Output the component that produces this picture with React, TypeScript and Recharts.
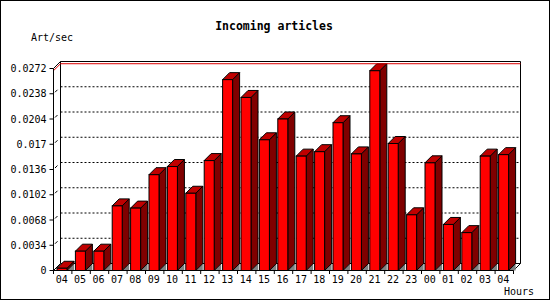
import React from 'react';
import { BarChart, Bar, XAxis, YAxis, CartesianGrid, ReferenceLine } from 'recharts';

// ---- data ----
const hours = ['04', '05', '06', '07', '08', '09', '10', '11', '12', '13', '14', '15', '16', '17', '18', '19', '20', '21', '22', '23', '00', '01', '02', '03', '04'];
const rates = [0.0003, 0.0026, 0.0026, 0.0087, 0.0084, 0.0129, 0.014, 0.0104, 0.0148, 0.0257, 0.0233, 0.0176, 0.0204, 0.0154, 0.016, 0.0199, 0.0157, 0.0269, 0.0171, 0.0075, 0.0145, 0.0062, 0.0051, 0.0154, 0.0156];
const yTicks = [0, 0.0034, 0.0068, 0.0102, 0.0136, 0.017, 0.0204, 0.0238, 0.0272];
const yTickLabels = ['0', '0.0034', '0.0068', '0.0102', '0.0136', '0.017', '0.0204', '0.0238', '0.0272'];
const title = 'Incoming articles';
const yLabel = 'Art/sec';
const xLabel = 'Hours';

const data = hours.map((h, i) => ({ hour: h, rate: rates[i] }));
const maxRate = Math.max(...rates);

// ---- layout ----
const W = 550;
const H = 300;
const D = 7; // 3D depth
const MARGIN = { top: 68.5, right: 36.5, bottom: 0, left: 0 };
const Y_AXIS_W = 53.5;
const X_AXIS_H = 29.5;
const BW = (W - MARGIN.right - Y_AXIS_W - MARGIN.left) / hours.length;
const FONT = '"DejaVu Sans Mono", monospace';

const Bar3D = (props: any) => {
  const { x, y, width, height } = props;
  if (x == null || width == null) return null;
  const bx = x - 0.5;
  const base = y + height;
  const r = bx + width;
  return (
    <g>
      <polygon points={`${r},${base} ${r + D},${base - D} ${r + D},${base}`} fill="#808080" />
      <polygon
        points={`${r},${y} ${r + D},${y - D} ${r + D},${base - D} ${r},${base}`}
        fill="#800000"
        stroke="#000"
        strokeWidth={1}
      />
      <polygon
        points={`${bx},${y} ${bx + D},${y - D} ${r + D},${y - D} ${r},${y}`}
        fill="#c00000"
        stroke="#000"
        strokeWidth={1}
      />
      <rect x={bx} y={y} width={width} height={height} fill="#ff0000" stroke="#000" strokeWidth={1} />
    </g>
  );
};

const GridLine = (p: any) => {
  const { x1, x2, y1, index } = p;
  const top = typeof p.y === 'number' ? p.y : NaN;
  const bottom = typeof p.y === 'number' && typeof p.height === 'number' ? p.y + p.height : NaN;
  const bx1 = x1 + D;
  const bx2 = x2 + D;
  const by = y1 - D;
  if (Math.abs(y1 - top) < 0.6) {
    return (
      <g key={`gl-${index}`}>
        <line x1={bx1} y1={by} x2={bx2} y2={by} stroke="#000" />
        <line x1={x1} y1={y1} x2={bx1} y2={by} stroke="#000" />
        <line x1={bx1} y1={by} x2={bx1} y2={bottom - D} stroke="#000" />
        <line x1={bx2} y1={by} x2={bx2} y2={bottom - D} stroke="#000" />
      </g>
    );
  }
  if (Math.abs(y1 - bottom) < 0.6) {
    return (
      <g key={`gl-${index}`}>
        <line x1={bx1} y1={by} x2={bx2} y2={by} stroke="#000" />
        <line x1={x1} y1={y1} x2={bx1} y2={by} stroke="#000" />
        <line x1={x2} y1={y1} x2={bx2} y2={by} stroke="#000" />
      </g>
    );
  }
  return (
    <g key={`gl-${index}`}>
      <line x1={bx1} y1={by} x2={bx2} y2={by} stroke="#000" strokeDasharray="2 2" />
      <line x1={x1 + 1.5} y1={y1 - 1.5} x2={x1 + 4} y2={y1 - 4} stroke="#000" />
    </g>
  );
};

const MaxLine = (p: any) => {
  const { x1, y1, x2, y2 } = p;
  if (x1 == null) return null;
  return (
    <g>
      <line x1={x1 + D} y1={y1 - D} x2={x2 + D} y2={y2 - D} stroke="#dd0000" />
      <line x1={x1} y1={y1} x2={x1 + D} y2={y1 - D} stroke="#dd0000" />
    </g>
  );
};

const XTick = (props: any) => {
  const { x, y, payload, index } = props;
  const left = x - BW / 2;
  return (
    <g>
      <line x1={left} y1={y - 6} x2={left} y2={y - 2.5} stroke="#000" />
      {index === hours.length - 1 && (
        <line x1={left + BW} y1={y - 6} x2={left + BW} y2={y - 2.5} stroke="#000" />
      )}
      <text x={x - 1} y={y + 6.5} textAnchor="middle" fontFamily={FONT} fontSize={10} fill="#000">
        {payload.value}
      </text>
    </g>
  );
};

export default function App() {
  return (
    <div style={{ position: 'absolute', left: 0, top: 0, width: W, height: H, background: '#fff' }}>
      <BarChart width={W} height={H} data={data} margin={MARGIN} barSize={10}>
        <CartesianGrid vertical={false} horizontal={GridLine as any} />
        <XAxis
          dataKey="hour"
          height={X_AXIS_H}
          interval={0}
          tickSize={4}
          tickMargin={2}
          tickLine={{ stroke: 'none' }}
          axisLine={{ stroke: '#000' }}
          tick={<XTick />}
        />
        <YAxis
          width={Y_AXIS_W}
          domain={[0, yTicks[yTicks.length - 1]]}
          ticks={yTicks}
          interval={0}
          tickSize={4}
          tickMargin={3}
          axisLine={{ stroke: '#000' }}
          tickLine={{ stroke: '#000' }}
          tick={{ fontFamily: FONT, fontSize: 10, fill: '#000' }}
          tickFormatter={(v: number) => yTickLabels[yTicks.indexOf(v)] ?? String(v)}
        />
        <Bar dataKey="rate" isAnimationActive={false} shape={<Bar3D />} />
        <ReferenceLine y={maxRate} shape={MaxLine as any} />
      </BarChart>
      <svg
        width={W}
        height={H}
        style={{ position: 'absolute', left: 0, top: 0, pointerEvents: 'none' }}
      >
        <rect x={0.5} y={0.5} width={W - 1} height={H - 1} fill="none" stroke="#000" />
        <text x={274} y={30} textAnchor="middle" fontFamily={FONT} fontWeight="bold" fontSize={11.5} fill="#000">
          {title}
        </text>
        <text x={31} y={40.5} fontFamily={FONT} fontSize={10} fill="#000">
          {yLabel}
        </text>
        <text x={504} y={295} fontFamily={FONT} fontSize={10} fill="#000">
          {xLabel}
        </text>
      </svg>
    </div>
  );
}
